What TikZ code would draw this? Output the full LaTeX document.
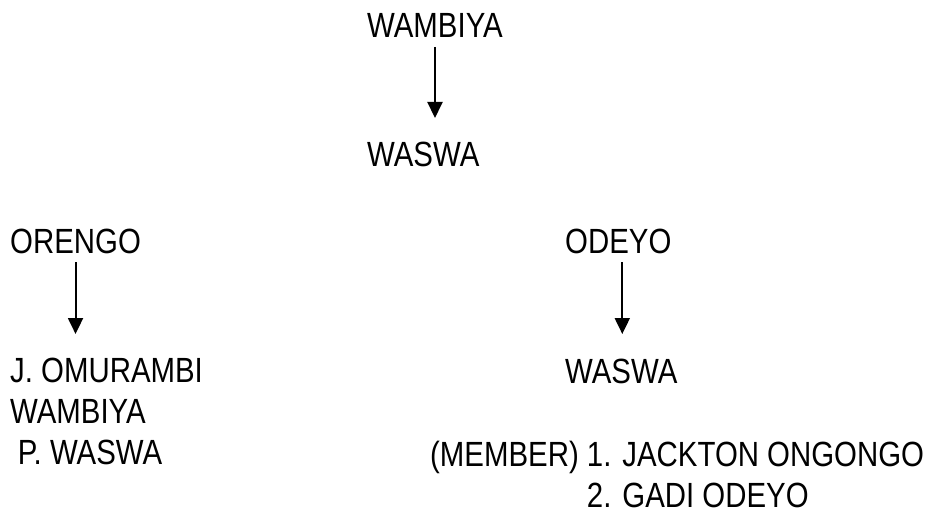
\documentclass[tikz,border=0pt]{standalone}
\usepackage{fontspec}
\usetikzlibrary{arrows.meta,positioning,calc}
\newfontfamily\narrowsans{Liberation Sans}[FakeStretch=0.84]
\definecolor{Ink}{HTML}{000000}
\tikzset{
  person/.style={
    anchor=base west,
    inner sep=0pt,
    text=Ink,
    font=\narrowsans\fontsize{35}{41}\selectfont
  },
  linkarrow/.style={
    -{Triangle[length=16pt,width=15pt]},
    line width=2pt,
    draw=Ink
  }
}

\begin{document}
\begin{tikzpicture}[x=1pt,y=-1pt]
\useasboundingbox (0,0) rectangle (947,516);

% Top line.
\node[person] (wambiya) at (367,38) {WAMBIYA};
\node[person] (waswa) at (367,166) {WASWA};

% Left branch.
\node[person] (orengo) at (10,253) {ORENGO};
\node[person] (omurambi) at (10,382) {%
  \begin{tabular}[t]{@{}l@{}}
    J. OMURAMBI\\
    WAMBIYA\\
    \hspace*{0.22em}P. WASWA
  \end{tabular}};

% Right branch.
\node[person] (odeyo) at (565,253) {ODEYO};
\node[person] (waswab) at (565,383) {WASWA};
\node[person] (members) at (430,466) {%
  \begin{tabular}[t]{@{}l@{ }l@{}}
    (MEMBER) & 1. JACKTON ONGONGO\\
             & 2. GADI ODEYO
  \end{tabular}};

% Arrows.
\draw[linkarrow] ([yshift=-9pt]wambiya.base) -- ([yshift=48pt]wambiya.base |- waswa.base);
\draw[linkarrow] ([yshift=-9pt]orengo.base) -- ([yshift=48pt]orengo.base |- omurambi.base);
\draw[linkarrow] ([xshift=4pt,yshift=-9pt]odeyo.base) -- ([xshift=4pt,yshift=49pt]odeyo.base |- waswab.base);

\end{tikzpicture}
\end{document}
